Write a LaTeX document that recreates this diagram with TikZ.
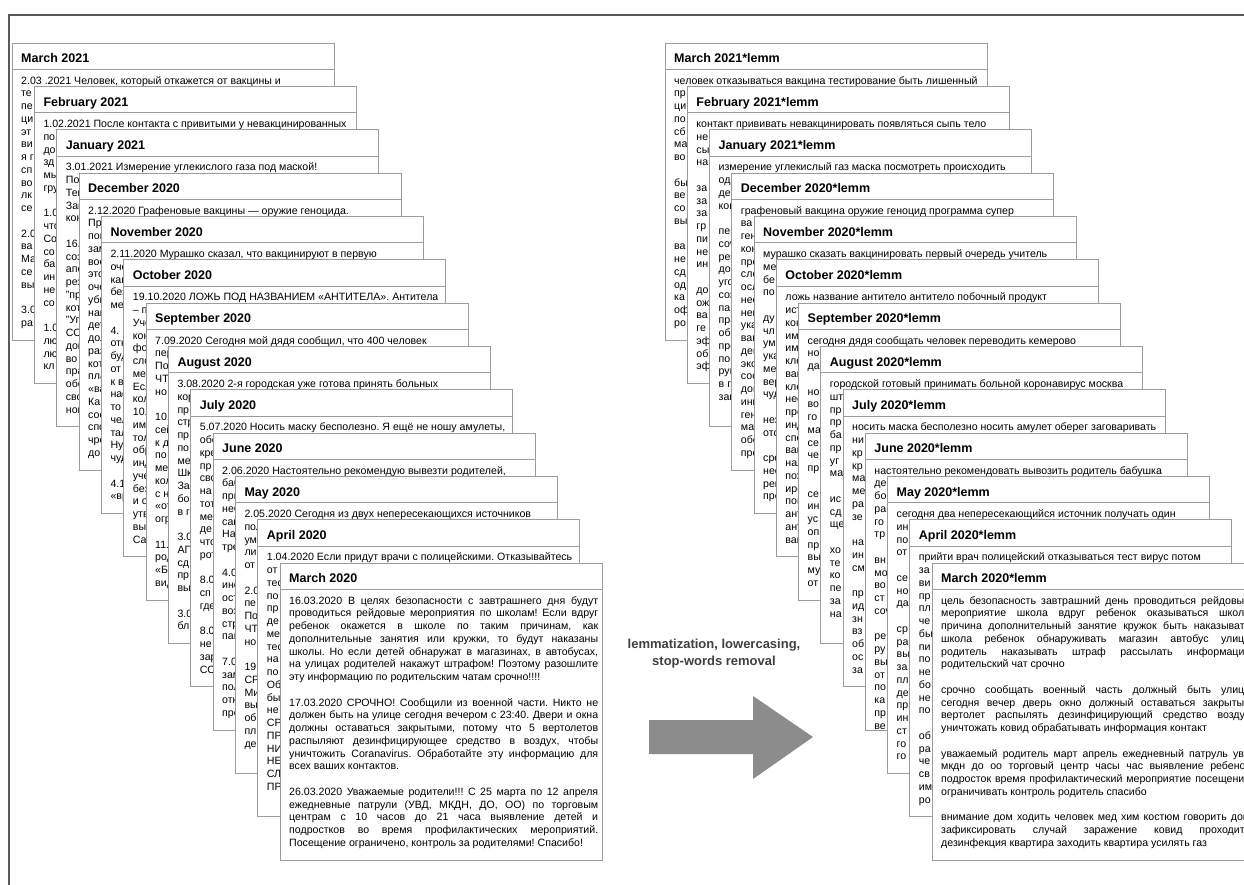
\documentclass[tikz,border=0pt]{standalone}
\usepackage{fontspec}
\setmainfont{Liberation Sans}
\frenchspacing
\definecolor{cardgray}{HTML}{9C9C9C}
\definecolor{framegray}{HTML}{5A5A5A}
\definecolor{arrowgray}{HTML}{8C8C8C}
\definecolor{labelgray}{HTML}{404040}
\newlength\jw
\setlength\jw{309pt}
\newcommand\js[1]{\hbox to \jw{\spaceskip=0.278em plus 1fil minus 0.12em\relax #1}}
\newcommand\mkcard[5]{%
  \fill[white] (#2,#3) rectangle ++(322,297);
  \begin{scope}
    \clip (#2,#3) rectangle ++(322,297);
    \node[ttl] (#1t) at (#2+9,#3+19.8) {#4};
    \node[bdy] (#1b) at (#2+9,#3+32.5) {\rule{0pt}{8.5pt}#5};
  \end{scope}
  \draw[crd] (#2,#3) rectangle ++(322,297);
  \draw[crd] (#2,#3+26.5) -- ++(322,0);
}
\begin{document}
\begin{tikzpicture}[x=1pt,y=-1pt,
  ttl/.style={anchor=base west,inner sep=0pt,font=\fontsize{12.5}{14}\selectfont\bfseries},
  bdy/.style={anchor=north west,inner sep=0pt,align=left,font=\fontsize{10.6}{12.75}\selectfont},
  crd/.style={draw=cardgray,line width=0.9pt},
  lbl/.style={align=center,inner sep=0pt,text=labelgray,font=\fontsize{13}{17}\selectfont\bfseries},
]
\useasboundingbox (0,0) rectangle (1244,885);
\fill[white] (0,0) rectangle (1244,885);
\draw[framegray,line width=1.3pt] (9,885) -- (9,15) -- (1244,15);

% ---------------- left stack ----------------
\mkcard{L0}{12}{43}{March 2021}{2.03 .2021 Человек, который откажется от вакцины и\\те\\пе\\ци\\эт\\ви\\я г\\сп\\во\\лк\\се\\~\\2.0\\ва\\Ма\\се\\вы\\~\\3.0\\ра}
\mkcard{L1}{34.3}{86.3}{February 2021}{1.02.2021 После контакта с привитыми у невакцинированных\\по\\до\\зд\\мы\\гру\\~\\1.0\\что\\Со\\со\\ба\\ин\\не\\со\\~\\1.0\\лю\\лю\\кл}
\mkcard{L2}{56.7}{129.7}{January 2021}{3.01.2021 Измерение углекислого газа под маской!\\Пос\\Теп\\Зам\\кон\\~\\16.0\\соз\\апе\\рез\\"пр\\кот\\"Уг\\СО\\дом\\во и\\пра\\обе\\сво\\нов}
\mkcard{L3}{79}{173}{December 2020}{2.12.2020 Графеновые вакцины — оружие геноцида.\\Пр\\пом\\зам\\вое\\это\\оче\\уби\\нак\\дет\\дол\\раз\\кот\\пла\\«ва\\Ка\\сос\\спо\\чре\\дом}
\mkcard{L4}{101.3}{216.3}{November 2020}{2.11.2020 Мурашко сказал, что вакцинируют в первую\\оче\\как\\без\\ме\\~\\4.\\отк\\буд\\от\\к в\\нас\\то\\чел\\тал\\Ну\\чуд\\~\\4.1\\«вр}
\mkcard{L5}{123.7}{259.7}{October 2020}{19.10.2020 ЛОЖЬ ПОД НАЗВАНИЕМ «АНТИТЕЛА». Антитела\\– п\\Уче\\кон\\фо\\сло\\мен\\Есл\\кол\\10.\\имм\\тол\\обр\\инд\\уче\\без\\и о\\утв\\вы\\Са}
\mkcard{L6}{146}{303}{September 2020}{7.09.2020 Сегодня мой дядя сообщил, что 400 человек\\пер\\По\\ЧТ\\но\\~\\10.\\сей\\к д\\по\\ме\\кол\\с н\\«от\\огр\\~\\11.\\род\\«Б\\вид}
\mkcard{L7}{168.3}{346.3}{August 2020}{3.08.2020 2-я городская уже готова принять больных\\кор\\пр\\стр\\пр\\по\\ме\\Шк\\За\\бо\\в г\\~\\3.0\\АГ\\сд\\пр\\вы\\~\\3.0\\бл}
\mkcard{L8}{190.7}{389.7}{July 2020}{5.07.2020 Носить маску бесполезно. Я ещё не ношу амулеты,\\обе\\кре\\пр\\сво\\на\\тот\\ме\\де\\что\\рот\\~\\8.0\\сп\\где\\~\\8.0\\не\\зар\\СО}
\mkcard{L9}{213}{433}{June 2020}{2.06.2020 Настоятельно рекомендую вывезти родителей,\\баб\\при\\неб\\сан\\На\\тре\\~\\4.0\\ино\\ост\\воз\\стр\\пан\\~\\7.0\\зам\\пол\\отк\\про}
\mkcard{L10}{235.3}{476.3}{May 2020}{2.05.2020 Сегодня из двух непересекающихся источников\\пол\\ум\\ли\\от\\~\\2.0\\пе\\По\\ЧТ\\но\\~\\19\\СР\\Ми\\вы\\об\\пл\\де}
\mkcard{L11}{257.7}{519.7}{April 2020}{1.04.2020 Если придут врачи с полицейскими. Отказывайтесь\\от\\тес\\по\\пр\\де\\ме\\тес\\на\\по\\Об\\бы\\не\\СР\\ПР\\НИ\\НЕ\\СЛ\\ПР}
\mkcard{L12}{280}{563}{March 2020}{%
\js{16.03.2020 В целях безопасности с завтрашнего дня будут}\\
\js{проводиться рейдовые мероприятия по школам! Если вдруг}\\
\js{ребенок окажется в школе по таким причинам, как}\\
\js{дополнительные занятия или кружки, то будут наказаны}\\
\js{школы. Но если детей обнаружат в магазинах, в автобусах,}\\
\js{на улицах родителей накажут штрафом! Поэтому разошлите}\\
эту информацию по родительским чатам срочно!!!!\\~\\
\js{17.03.2020 СРОЧНО! Сообщили из военной части. Никто не}\\
\js{должен быть на улице сегодня вечером с 23:40. Двери и окна}\\
\js{должны оставаться закрытыми, потому что 5 вертолетов}\\
\js{распыляют дезинфицирующее средство в воздух, чтобы}\\
\js{уничтожить Coranavirus. Обработайте эту информацию для}\\
всех ваших контактов.\\~\\
\js{26.03.2020 Уважаемые родители!!! С 25 марта по 12 апреля}\\
\js{ежедневные патрули (УВД, МКДН, ДО, ОО) по торговым}\\
\js{центрам с 10 часов до 21 часа выявление детей и}\\
\js{подростков во время профилактических мероприятий.}\\
Посещение ограничено, контроль за родителями! Спасибо!}

% ---------------- right stack ----------------
\mkcard{R0}{665}{43}{March 2021*lemm}{человек отказываться вакцина тестирование быть лишенный\\пр\\ци\\по\\сб\\ма\\во\\~\\бы\\ве\\со\\вы\\~\\ва\\не\\сд\\од\\ка\\оф\\ро}
\mkcard{R1}{687.25}{86.3}{February 2021*lemm}{контакт прививать невакцинировать появляться сыпь тело\\не\\сы\\на\\~\\за\\за\\за\\гр\\пи\\не\\ин\\~\\до\\ож\\ва\\ге\\эф\\об\\эф}
\mkcard{R2}{709.5}{129.7}{January 2021*lemm}{измерение углекислый газ маска посмотреть происходить\\оде\\дем\\кон\\~\\пер\\cov\\рез\\дом\\уго\\соз\\пар\\пра\\обе\\пре\\пор\\рук\\в гл\\зак}
\mkcard{R3}{731.75}{173}{December 2020*lemm}{графеновый вакцина оружие геноцид программа супер\\ва\\ген\\кон\\пре\\сло\\осл\\нес\\нег\\ука\\вак\\дек\\экс\\сос\\дом\\инн\\ген\\мат\\обе\\пре}
\mkcard{R4}{754}{216.3}{November 2020*lemm}{мурашко сказать вакцинировать первый очередь учитель\\ме\\бе\\по\\~\\ду\\чл\\ум\\ука\\ме\\вер\\чуд\\~\\нез\\отс\\~\\сре\\нео\\рег\\пре}
\mkcard{R5}{776.25}{259.7}{October 2020*lemm}{ложь название антитело антитело побочный продукт\\ист\\кон\\имм\\имм\\кле\\вак\\кле\\нес\\про\\инд\\спе\\вак\\нал\\пох\\иро\\пов\\ант\\ант\\вак}
\mkcard{R6}{798.5}{303}{September 2020*lemm}{сегодня дядя сообщать человек переводить кемерово\\но\\да\\~\\но\\во\\го\\ма\\се\\че\\пр\\~\\се\\ин\\ус\\оп\\пр\\вы\\му\\от}
\mkcard{R7}{820.75}{346.3}{August 2020*lemm}{городской готовый принимать больной коронавирус москва\\шт\\пр\\пр\\ба\\пр\\уг\\ма\\~\\ис\\сд\\ще\\~\\хо\\те\\ко\\пе\\за\\на}
\mkcard{R8}{843}{389.7}{July 2020*lemm}{носить маска бесполезно носить амулет оберег заговаривать\\ни\\кр\\кр\\ма\\ме\\ра\\зе\\~\\на\\ин\\см\\~\\пр\\ид\\зн\\вз\\об\\ос\\за}
\mkcard{R9}{865.25}{433}{June 2020*lemm}{настоятельно рекомендовать вывозить родитель бабушка\\де\\бо\\ра\\го\\тр\\~\\вн\\мо\\во\\ст\\cov\\~\\ре\\ру\\вы\\от\\по\\ка\\пр\\ве}
\mkcard{R10}{887.5}{476.3}{May 2020*lemm}{сегодня два непересекающийся источник получать один\\ин\\по\\от\\~\\се\\но\\да\\~\\ср\\ра\\вы\\за\\пл\\де\\пр\\ин\\ст\\го\\го}
\mkcard{R11}{909.75}{519.7}{April 2020*lemm}{прийти врач полицейский отказываться тест вирус потом\\за\\ви\\пр\\пл\\че\\бы\\пи\\по\\не\\бо\\не\\по\\~\\об\\ра\\че\\св\\им\\ро}
\mkcard{R12}{932}{563}{March 2020*lemm}{%
\js{цель безопасность завтрашний день проводиться рейдовый}\\
\js{мероприятие школа вдруг ребенок оказываться школа}\\
\js{причина дополнительный занятие кружок быть наказывать}\\
\js{школа ребенок обнаруживать магазин автобус улица}\\
\js{родитель наказывать штраф рассылать информация}\\
родительский чат срочно\\~\\
\js{срочно сообщать военный часть должный быть улица}\\
\js{сегодня вечер дверь окно должный оставаться закрытый}\\
\js{вертолет распылять дезинфицирующий средство воздух}\\
уничтожать ковид обрабатывать информация контакт\\~\\
\js{уважаемый родитель март апрель ежедневный патруль увд}\\
\js{мкдн до оо торговый центр часы час выявление ребенок}\\
\js{подросток время профилактический мероприятие посещение}\\
ограничивать контроль родитель спасибо\\~\\
\js{внимание дом ходить человек мед хим костюм говорить дом}\\
\js{зафиксировать случай заражение ковид проходить}\\
дезинфекция квартира заходить квартира усилять газ}

% ---------------- arrow and label ----------------
\node[lbl] (lab) at (714,654) {lemmatization, lowercasing,\\stop-words removal};
\fill[arrowgray] (649,720) -- (753,720) -- (753,696) -- (813,737)
  -- (753,779) -- (753,754) -- (649,754) -- cycle;
\end{tikzpicture}
\end{document}
